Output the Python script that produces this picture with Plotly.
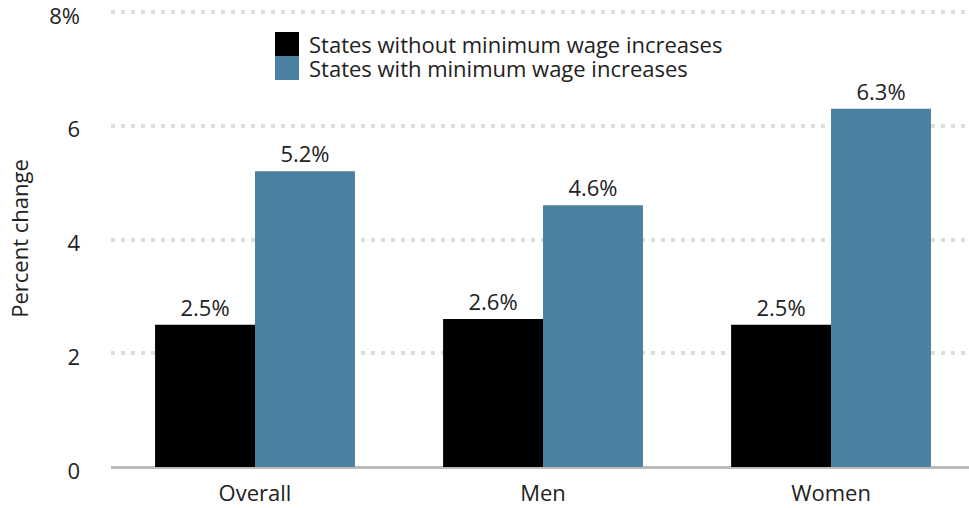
import plotly.graph_objects as go

categories = ["Overall", "Men", "Women"]
series_names = ["States without minimum wage increases", "States with minimum wage increases"]
without_increase = [2.5, 2.6, 2.5]
with_increase = [5.2, 4.6, 6.3]
colors = ["#000000", "#4a80a0"]
y_ticks = [0, 2, 4, 6, 8]
y_tick_labels = ["0", "2", "4", "6", "8%"]

FONT = "Open Sans"
FS = 22

W, H = 969, 508
ML, MT, MB = 111, 10, 41
PW, PH = W - ML, H - MT - MB
YMAX = 8.035

fig = go.Figure()
for name, vals, col in zip(series_names, [without_increase, with_increase], colors):
    fig.add_trace(go.Bar(
        x=categories, y=vals, name=name, marker=dict(color=col, line=dict(width=0)),
        texttemplate="%{y:.1f}%", textposition="outside", cliponaxis=False,
        textfont=dict(size=FS, color="#222", family=FONT),
        showlegend=False,
    ))

# custom legend (large square swatches)
legend_x_px = 275
legend_y_px = [32, 56]
def px_x(p):
    return (p - ML) / PW
def px_y(p):
    return (H - MB - p) / PH
for i, (name, col) in enumerate(zip(series_names, colors)):
    y_top = legend_y_px[i]
    fig.add_shape(type="rect", xref="paper", yref="paper",
                  x0=px_x(legend_x_px), x1=px_x(legend_x_px + 24),
                  y0=px_y(y_top + 24), y1=px_y(y_top),
                  fillcolor=col, line=dict(width=0), layer="above")
    fig.add_annotation(text=name, xref="paper", yref="paper",
                       x=px_x(legend_x_px + 33), y=px_y(y_top + 12),
                       xanchor="left", yanchor="middle", showarrow=False,
                       borderpad=0,
                       font=dict(size=FS, color="#222", family=FONT))

fig.update_layout(
    width=W, height=H,
    margin=dict(l=ML, r=0, t=MT, b=MB, autoexpand=False),
    plot_bgcolor="white", paper_bgcolor="white",
    barmode="group", bargap=0.306, bargroupgap=0,
    font=dict(family=FONT, size=FS, color="#222"),
    xaxis=dict(range=[-0.5, 2.479], showgrid=False, showline=False, ticks="",
               tickfont=dict(size=FS), zeroline=False, ticklabelstandoff=11),
    yaxis=dict(range=[0, YMAX], tickvals=y_ticks, ticktext=y_tick_labels,
               showgrid=True, gridcolor="#dedede", gridwidth=4, griddash="4px,6px",
               zeroline=True, zerolinecolor="#bbbbbb", zerolinewidth=3,
               ticks="", ticklabelstandoff=30, ticklabelshift=4, tickfont=dict(size=FS),
               ticklabeloverflow="allow",
               title=dict(text="Percent change", font=dict(size=FS), standoff=14)),
)

fig.write_html("out.html")
